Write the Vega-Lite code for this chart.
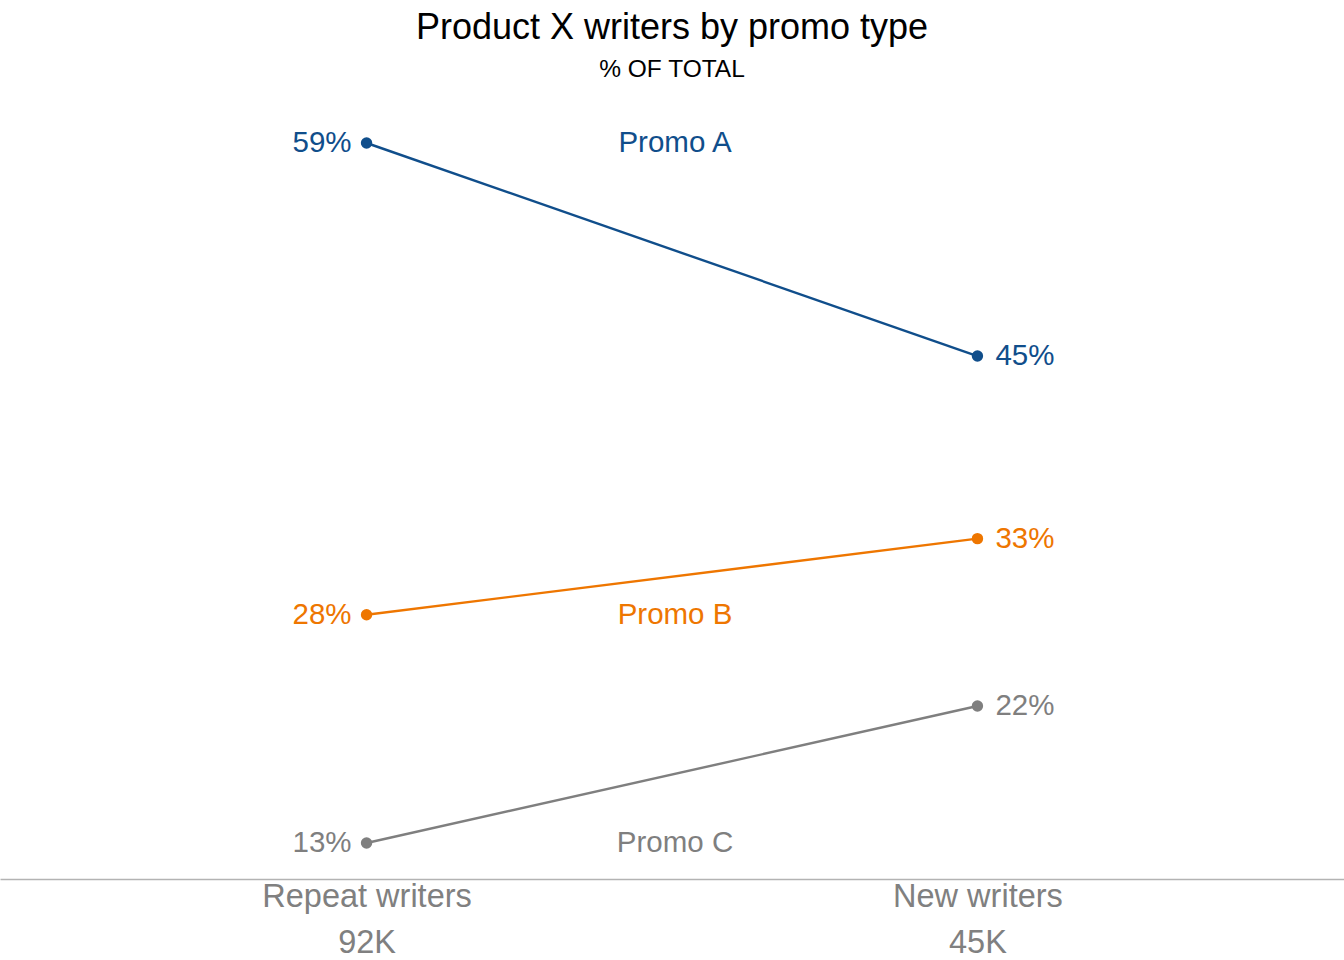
{
  "$schema": "https://vega.github.io/schema/vega-lite/v6.json",
  "autosize": "none",
  "width": 1344,
  "height": 784,
  "padding": {"top": 95, "left": 0, "right": 0, "bottom": 81},
  "background": "white",
  "config": {
    "view": {"stroke": null},
    "font": "Liberation Sans",
    "text": {"font": "Liberation Sans"}
  },
  "title": {
    "text": "Product X writers by promo type",
    "subtitle": "% OF TOTAL",
    "anchor": "middle",
    "font": "Liberation Sans",
    "fontSize": 36,
    "fontWeight": "normal",
    "color": "#000000",
    "subtitleFont": "Liberation Sans",
    "subtitleFontSize": 24.5,
    "subtitleColor": "#000000",
    "subtitlePadding": 11,
    "offset": 13
  },
  "datasets": {
    "points": [
      {"writers": "Repeat writers", "pos": 1, "promo": "Promo A", "pct": 0.59},
      {"writers": "New writers", "pos": 2, "promo": "Promo A", "pct": 0.45},
      {"writers": "Repeat writers", "pos": 1, "promo": "Promo B", "pct": 0.28},
      {"writers": "New writers", "pos": 2, "promo": "Promo B", "pct": 0.33},
      {"writers": "Repeat writers", "pos": 1, "promo": "Promo C", "pct": 0.13},
      {"writers": "New writers", "pos": 2, "promo": "Promo C", "pct": 0.22}
    ],
    "labels": [
      {"pos": 1.5, "promo": "Promo A", "pct": 0.59},
      {"pos": 1.5, "promo": "Promo B", "pct": 0.28},
      {"pos": 1.5, "promo": "Promo C", "pct": 0.13}
    ]
  },
  "encoding": {
    "x": {
      "field": "pos",
      "type": "quantitative",
      "scale": {"domain": [0.4, 2.6], "nice": false, "zero": false},
      "axis": {
        "title": null,
        "values": [1, 2],
        "labelExpr": "datum.value == 1 ? ['Repeat writers', '92K'] : ['New writers', '45K']",
        "labelFont": "Liberation Sans",
        "labelFontSize": 32.5,
        "labelColor": "#808080",
        "labelLineHeight": 46,
        "labelPadding": 1,
        "labelLimit": 0,
        "labelFlush": false,
        "labelOverlap": false,
        "ticks": false,
        "grid": false,
        "domainColor": "#b3b3b3",
        "domainWidth": 1.5
      }
    },
    "y": {
      "field": "pct",
      "type": "quantitative",
      "scale": {"domain": [0.10634, 0.62154], "nice": false, "zero": false},
      "axis": null
    },
    "color": {
      "field": "promo",
      "type": "nominal",
      "scale": {"domain": ["Promo A", "Promo B", "Promo C"], "range": ["#104E8B", "#EE7600", "#7F7F7F"]},
      "legend": null
    }
  },
  "layer": [
    {
      "data": {"name": "points"},
      "mark": {"type": "line", "strokeWidth": 2.4},
      "encoding": {"detail": {"field": "promo"}}
    },
    {
      "data": {"name": "points"},
      "mark": {"type": "point", "filled": true, "opacity": 1, "size": 130}
    },
    {
      "data": {"name": "points"},
      "transform": [{"filter": "datum.pos == 1"}],
      "mark": {"type": "text", "align": "right", "baseline": "middle", "dx": -15, "fontSize": 29.5},
      "encoding": {"text": {"field": "pct", "type": "quantitative", "format": ".0%"}}
    },
    {
      "data": {"name": "points"},
      "transform": [{"filter": "datum.pos == 2"}],
      "mark": {"type": "text", "align": "left", "baseline": "middle", "dx": 18, "fontSize": 29.5},
      "encoding": {"text": {"field": "pct", "type": "quantitative", "format": ".0%"}}
    },
    {
      "data": {"name": "labels"},
      "mark": {"type": "text", "align": "center", "baseline": "middle", "dx": 3, "fontSize": 29.5},
      "encoding": {"text": {"field": "promo", "type": "nominal"}}
    }
  ]
}
